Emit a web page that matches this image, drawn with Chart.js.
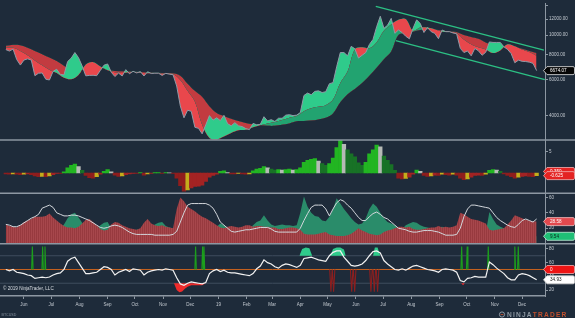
<!DOCTYPE html>
<html>
<head>
<meta charset="utf-8">
<script src="https://cdn.jsdelivr.net/npm/chart.js@4.4.0/dist/chart.umd.min.js"></script>
<style>
  html, body { margin: 0; padding: 0; background: #1e2b3a; }
  #wrap { width: 575px; height: 318px; }
</style>
</head>
<body>
<div id="wrap"><canvas id="btcChart" width="575" height="318"></canvas></div>
<script>
// days are counted from Jun 1 2018, first bar is May 12 2018
const firstDay = -20;
const closeStep = 4;
const maStep = 8;

// BTCUSD closes, one every 4 days
const closes = [
  8480, 8340, 8530, 7570, 7110, 7530, 7630, 7530, 6300, 6480,
  6500, 6050, 6000, 6620, 6780, 6390, 6360, 7400, 7700, 8200,
  7730, 7030, 6290, 6320, 6330, 6300, 6690, 7100, 7200, 6550,
  6240, 6490, 6280, 6750, 6440, 6620, 6500, 6600, 6280, 6590,
  6460, 6480, 6480, 6320, 6470, 6410, 6370, 5600, 4460, 3900,
  4250, 4200, 3500, 3460, 3250, 3600, 4000, 3800, 3900, 3780,
  4010, 3650, 3560, 3690, 3560, 3530, 3450, 3410, 3660, 3600,
  3620, 3950, 3760, 3820, 3740, 3880, 3880, 4020, 4040, 4000,
  4020, 4140, 5030, 5170, 5070, 5270, 5300, 5200, 5250, 5750,
  5820, 6970, 8200, 8200, 7900, 8800, 8560, 7700, 7950, 8200,
  8990, 9520, 11000, 12400, 10800, 11200, 12100, 10200, 10600, 10300,
  9870, 9590, 10800, 11900, 11400, 10300, 10900, 10400, 10200, 9600,
  10600, 10400, 10400, 10250, 10150, 8600, 8200, 8350, 7900, 8590,
  8360, 7950, 8230, 9250, 9200, 9200, 9200, 8750, 8500, 8100,
  7300, 7520, 7420, 7400, 7350, 7250, 6674.07
];

// ribbon averages, one every 8 days
const fastMA = [
  8650, 8650, 8350, 7950, 7500, 7100, 6750, 6500, 6150, 6050,
  6350, 7150, 7350, 7000, 6700, 6550, 6500, 6560, 6560, 6500,
  6480, 6470, 6450, 6430, 6000, 5300, 4700, 3600, 3100, 3050,
  3150, 3280, 3380, 3400, 3500, 3580, 3660, 3720, 3800, 3900,
  3980, 4200, 4350, 4420, 4500, 4800, 5800, 6600, 8500, 8700,
  8600, 9200, 10500, 11300, 11900, 12000, 10500, 10900, 10900, 10700,
  10400, 10350, 10250, 9500, 9000, 8700, 8500, 8150, 8400, 9000,
  8800, 8500, 8250, 7900
];
const slowMA = [
  8850, 8950, 8900, 8650, 8350, 8050, 7750, 7450, 7050, 6700,
  6650, 6800, 6900, 6900, 6750, 6650, 6620, 6600, 6580, 6560,
  6530, 6510, 6490, 6470, 6300, 5750, 5300, 4950, 4450, 4120,
  3980, 3860, 3760, 3680, 3620, 3580, 3560, 3560, 3600, 3660,
  3750, 3760, 3780, 3830, 3900, 4100, 4650, 5100, 5420, 5800,
  6300, 6900, 7600, 8300, 10000, 10200, 10400, 10600, 10700, 10650,
  10550, 10450, 10350, 10000, 9800, 9600, 9200, 8900, 8700, 8800,
  8750, 8550, 8350, 8150
];

// down channel drawn on the 2019 top
const channelUpperDays = [387, 572];
const channelUpperPrices = [13890, 8420];
const channelLowerDays = [409, 573];
const channelLowerPrices = [9390, 6020];

// momentum histogram
const macd = [
  -0.2, -0.3, -0.2, -0.3, -0.4, -0.3, -0.2, -0.4, -0.7, -0.9,
  -0.8, -0.9, -0.7, -0.4, -0.1, -0.1, 0.3, 1.2, 1.8, 2.1,
  1.5, 0.6, -0.6, -1.1, -1.2, -0.9, -0.3, 0.4, 0.8, 0.3,
  -0.5, -0.8, -0.7, -0.4, -0.2, -0.1, -0.1, 0.1, -0.5, -0.2,
  -0.1, 0.1, 0.1, -0.1, 0.1, 0.05, -0.1, -1.2, -3.0, -4.3,
  -4.0, -3.5, -3.2, -3.1, -2.9, -2.0, -1.0, -0.6, -0.3, 0.4,
  0.5, 0.1, -0.2, -0.2, -0.1, -0.2, -0.3, -0.2, 0.5, 0.9,
  1.1, 1.5, 1.2, 0.9, 0.7, 0.8, 0.7, 0.8, 0.9, 0.7,
  0.8, 1.2, 2.5, 3.0, 3.2, 3.4, 2.8, 2.2, 1.8, 2.2,
  3.5, 6.0, 7.7, 6.8, 5.5, 4.5, 3.8, 2.4, 1.8, 2.5,
  4.5, 5.5, 6.6, 6.2, 4.0, 3.0, 2.0, 0.6, -1.2, -1.4,
  -1.3, -1.0, -0.3, 0.7, 0.4, -0.6, -0.8, -0.7, -0.5, -0.6,
  -0.3, -0.4, -0.5, -0.3, -0.5, -1.2, -1.6, -1.4, -1.0, -0.6,
  -0.5, -0.6, -0.3, 0.6, 0.8, 0.7, 0.4, -0.2, -0.6, -0.9,
  -1.2, -1.0, -0.8, -0.7, -0.8, -0.9, -0.625
];
const macdSignalLast = 0.35;

// directional movement
const diMinus = [
  25, 23, 22, 21, 24, 28, 30, 32, 35, 35,
  35, 36, 39, 34, 30, 26, 23, 21, 21, 20,
  22, 26, 31, 32, 28, 24, 19, 17, 18, 25,
  28, 27, 24, 22, 20, 19, 18, 20, 27, 32,
  26, 24, 23, 24, 22, 21, 20, 45, 60, 55,
  48, 45, 42, 38, 35, 33, 30, 27, 24, 21,
  20, 22, 23, 22, 21, 22, 24, 24, 22, 23,
  23, 22, 22, 21, 21, 19, 19, 20, 21, 21,
  20, 18, 13, 12, 12, 12, 13, 14, 15, 12,
  11, 10, 10, 10, 11, 13, 16, 20, 17, 15,
  13, 12, 11, 12, 15, 17, 18, 20, 22, 22,
  21, 22, 19, 18, 18, 19, 20, 21, 21, 23,
  21, 22, 21, 22, 24, 40, 38, 35, 32, 31,
  30, 28, 26, 18, 17, 18, 19, 20, 25, 30,
  37, 35, 33, 31, 30, 29, 28.58
];
const diPlus = [
  15, 16, 17, 16, 14, 13, 12, 12, 11, 12,
  13, 12, 11, 15, 18, 20, 25, 33, 38, 40,
  34, 27, 20, 17, 16, 18, 24, 27, 28, 20,
  17, 18, 18, 19, 18, 17, 18, 19, 16, 18,
  22, 25, 27, 28, 23, 21, 20, 12, 9, 8,
  10, 11, 10, 11, 10, 12, 18, 20, 22, 26,
  24, 21, 20, 19, 18, 19, 18, 19, 24, 28,
  30, 37, 30, 25, 23, 24, 25, 24, 24, 23,
  24, 40, 61, 48, 40, 36, 35, 30, 29, 35,
  45, 59, 52, 45, 39, 33, 28, 25, 26, 33,
  45, 52, 48, 40, 33, 28, 26, 24, 20, 19,
  24, 26, 28, 27, 24, 22, 21, 20, 20, 21,
  22, 20, 19, 18, 17, 11, 10, 12, 11, 12,
  12, 13, 14, 41, 32, 25, 22, 20, 16, 13,
  12, 11, 11, 10, 10, 9.8, 9.54
];
const adx = [
  25, 24, 22, 22, 24, 27, 30, 33, 35, 38,
  46, 48, 50, 47, 40, 38, 36, 36, 37, 37,
  36, 34, 32, 30, 27, 24, 21, 20, 21, 23,
  24, 23, 21, 18, 15, 13, 12, 12, 12, 12,
  12, 11, 11, 11, 11, 11, 12, 16, 28, 40,
  50, 52, 52, 52, 52, 52, 50, 46, 38, 28,
  24, 20, 16, 15, 16, 17, 18, 18, 19, 20,
  21, 21, 21, 19, 16, 15, 15, 15, 15, 15,
  15, 20, 30, 39, 47, 50, 50, 50, 45, 36,
  45, 53, 57, 55, 50, 46, 40, 34, 30, 30,
  35, 39, 41, 38, 34, 32, 28, 24, 20, 19,
  18, 16, 15, 15, 16, 17, 17, 17, 16, 15,
  13, 11, 11, 11, 12, 20, 35, 45, 50, 50,
  49, 48, 47, 46, 40, 34, 30, 27, 24, 22,
  21, 25, 30, 32, 30, 28, 32
];

// oscillator panel
const rsi = [
  50, 48, 50, 46, 45, 44, 42, 41, 37, 38,
  39, 38, 39, 42, 44, 45, 50, 62, 66, 68,
  60, 52, 44, 44, 45, 46, 50, 54, 53, 50,
  42, 46, 48, 50, 47, 51, 50, 49, 42, 46,
  48, 49, 50, 49, 51, 50, 49, 38, 29, 27,
  30, 32, 31, 30, 29, 31, 44, 48, 50, 47,
  49, 46, 45, 45, 44, 43, 42, 41, 44, 51,
  55, 64, 60, 58, 54, 52, 56, 58, 57, 55,
  53, 56, 66, 67, 68, 66, 64, 63, 62, 70,
  75, 77, 77, 68, 62, 56, 55, 56, 58, 63,
  70, 76, 77, 74, 63, 58, 54, 50, 49, 51,
  49, 52, 55, 56, 54, 52, 50, 49, 48, 46,
  50, 51, 50, 49, 46, 34, 32, 37, 38, 40,
  39, 39, 39, 61, 57, 52, 48, 44, 38, 35,
  35, 42, 44, 43, 41, 38, 34.93
];
const obDays = [303, 306, 310, 314, 317, 318, 337, 340, 344, 348, 352, 354, 355, 384, 386, 389, 392];
const obVals = [70, 80, 82, 81, 70, null, 70, 80, 82, 82, 79, 70, null, 70, 82, 82, 70];
const osDays = [165, 168, 171, 174, 177, 180, 184, 190, 196, 200, 201, 481, 483, 485];
const osVals = [30, 20, 17, 18, 22, 25, 27, 27, 27, 30, null, 30, 27, 30];
const longSignalDays = [9.2, 20.5, 23.1, 188.8, 196.5, 198, 481.5, 487.6, 510.8, 540, 543.8];
const shortSignalDays = [337.7, 340.6, 360.5, 363.8, 381.7, 385.4, 389];
const longSignalTop = 83.5;
const shortSignalBottom = 17.5;
const signalBase = 50;
const signalLast = 0;
const rsiBands = [70, 30];

// axes
const monthDays = [0, 30, 61, 92, 122, 153, 183, 214, 245, 273, 304, 334, 365, 395, 426, 457, 487, 518, 548];
const monthLabels = ['Jun', 'Jul', 'Aug', 'Sep', 'Oct', 'Nov', 'Dec', '19', 'Feb', 'Mar', 'Apr', 'May', 'Jun', 'Jul', 'Aug', 'Sep', 'Oct', 'Nov', 'Dec'];
const priceTicks = [4000, 5000, 6000, 7000, 8000, 9000, 10000, 11000, 12000, 13000, 14000];
const macdTicks = [5];
const dmiTicks = [20, 40, 60];
const rsiTicks = [20, 40, 60, 80];

const xMin = -26.4, xMax = 573.2;

const canvas = document.getElementById('btcChart');
const ctx = canvas.getContext('2d');

const series = (vals, step) => vals.map((v, i) => ({ x: firstDay + i * step, y: v }));
const pairs = (days, vals) => days.map((d, i) => ({ x: d, y: vals[i] }));
const spikes = (days, peak, half) => {
  const out = [];
  days.forEach(d => {
    out.push({ x: d - half, y: signalBase }, { x: d, y: peak }, { x: d + half, y: signalBase }, { x: d + half + 0.05, y: null });
  });
  return out;
};

function stripes(a, b) {
  const c = document.createElement('canvas');
  c.width = 2; c.height = 1;
  const g = c.getContext('2d');
  g.fillStyle = a; g.fillRect(0, 0, 1, 1);
  g.fillStyle = b; g.fillRect(1, 0, 1, 1);
  return ctx.createPattern(c, 'repeat');
}

// histogram colours follow rising / falling bars
const macdColors = macd.map((v, i) => {
  const prev = i > 0 ? macd[i - 1] : v;
  const prev2 = i > 1 ? macd[i - 2] : prev;
  if (v >= 0) {
    if (v >= prev) return '#22b522';
    return prev >= prev2 ? '#b5bab5' : '#187226';
  }
  if (v <= prev) return '#8f1d1d';
  return prev <= prev2 ? '#c4ad1c' : '#a32323';
});

const gridColor = '#8d97a2';
const labelColor = '#c3c9d0';
const tickFont = { size: 4.5, family: 'Liberation Sans' };

function rightAxis(extra) {
  return Object.assign({
    position: 'right',
    stack: 'panels',
    offset: false,
    grid: { drawOnChartArea: false, drawTicks: true, tickLength: 3, color: gridColor, offset: false },
    border: { color: gridColor, width: 1 },
    ticks: { color: labelColor, font: tickFont, padding: 1, callback: v => String(v) },
    afterFit: s => { s.width = 30; }
  }, extra);
}

function drawTag(c, y, text, fill, color, stroke) {
  const x0 = 543.5, x1 = 574.5, h = 8;
  c.beginPath();
  c.moveTo(x0, y);
  c.lineTo(x0 + 3.5, y - h / 2);
  c.lineTo(x1 - 1.5, y - h / 2);
  c.quadraticCurveTo(x1, y - h / 2, x1, y - h / 2 + 1.5);
  c.lineTo(x1, y + h / 2 - 1.5);
  c.quadraticCurveTo(x1, y + h / 2, x1 - 1.5, y + h / 2);
  c.lineTo(x0 + 3.5, y + h / 2);
  c.closePath();
  c.fillStyle = fill;
  c.fill();
  if (stroke) { c.strokeStyle = stroke; c.lineWidth = 0.8; c.stroke(); }
  c.fillStyle = color;
  c.font = '4.6px "Liberation Sans"';
  c.textAlign = 'left';
  c.textBaseline = 'middle';
  c.fillText(text, x0 + 6.5, y + 0.3);
}

const background = {
  id: 'background',
  beforeDraw(chart) {
    const c = chart.ctx;
    c.save();
    c.fillStyle = '#1e2b3a';
    c.fillRect(0, 0, chart.width, chart.height);
    c.restore();
  }
};

const overlay = {
  id: 'overlay',
  afterDraw(chart) {
    const c = chart.ctx;
    const s = chart.scales;
    c.save();
    c.strokeStyle = gridColor;
    c.lineWidth = 1.5;
    [s.yP.bottom, s.yM.bottom, s.yD.bottom].forEach(y => {
      c.beginPath(); c.moveTo(0, y); c.lineTo(chart.width, y); c.stroke();
    });

    const lastClose = closes[closes.length - 1];
    drawTag(c, s.yP.getPixelForValue(lastClose), lastClose.toFixed(2), '#060606', '#ffffff', '#e6e6e6');
    drawTag(c, s.yM.getPixelForValue(macdSignalLast), macdSignalLast.toFixed(3), '#e42322', '#ffffff', '#f3b0b0');
    const lastMacd = macd[macd.length - 1];
    drawTag(c, s.yM.getPixelForValue(lastMacd), lastMacd.toFixed(3), '#e42322', '#ffffff', '#f3b0b0');
    const lastMinus = diMinus[diMinus.length - 1];
    drawTag(c, s.yD.getPixelForValue(lastMinus), lastMinus.toFixed(2), '#e2494e', '#ffffff', '#f0c0c0');
    const lastPlus = diPlus[diPlus.length - 1];
    drawTag(c, s.yD.getPixelForValue(lastPlus), lastPlus.toFixed(2), '#1fbf76', '#0d2a1e', '#bfeed8');
    drawTag(c, s.yR.getPixelForValue(signalBase), String(signalLast), '#ee1414', '#ffffff', '#f6b0b0');
    const lastRsi = rsi[rsi.length - 1];
    drawTag(c, s.yR.getPixelForValue(lastRsi), lastRsi.toFixed(2), '#ffffff', '#111111', '#d0d0d0');

    c.font = '4.6px "Liberation Sans"';
    c.textBaseline = 'middle';
    c.textAlign = 'left';
    c.fillStyle = '#d9dee3';
    c.fillText('\u00a9 2019 NinjaTrader, LLC', 3, 288.5);
    c.font = '3.6px "Liberation Sans"';
    c.fillStyle = '#8893a0';
    c.fillText('BTCUSD', 1.5, 314.5);

    // vendor mark
    c.strokeStyle = '#9aa3ad';
    c.lineWidth = 0.9;
    c.beginPath(); c.arc(502, 314.5, 2.6, 0, Math.PI * 2); c.stroke();
    c.fillStyle = '#c1502e';
    c.fillRect(500.6, 314, 2.8, 0.9);
    c.font = 'bold 6.6px "Liberation Sans"';
    c.letterSpacing = '1.2px';
    c.fillStyle = '#8f99a3';
    c.fillText('NINJA', 507, 315);
    const w = c.measureText('NINJA').width;
    c.fillStyle = '#c1502e';
    c.fillText('TRADER', 507 + w, 315);
    c.letterSpacing = '0px';
    c.restore();
  }
};

new Chart(ctx, {
  type: 'line',
  data: {
    datasets: [
      { label: 'Close', data: series(closes, closeStep), yAxisID: 'yP', borderColor: '#8f9aa6', borderWidth: 1,
        fill: { target: 1, above: '#2fcb8b', below: '#e9474c' }, order: 1 },
      { label: 'Fast', data: series(fastMA, maStep), yAxisID: 'yP', borderWidth: 0, borderColor: 'rgba(0,0,0,0)', tension: 0.35,
        fill: { target: 2, above: '#22a370', below: '#c23b40' }, order: 2 },
      { label: 'Slow', data: series(slowMA, maStep), yAxisID: 'yP', borderWidth: 0, borderColor: 'rgba(0,0,0,0)', tension: 0.35,
        fill: false, order: 3 },
      { label: 'Channel top', data: pairs(channelUpperDays, channelUpperPrices), yAxisID: 'yP', borderColor: '#2cc084', borderWidth: 1.3, fill: false, order: 0 },
      { label: 'Channel bottom', data: pairs(channelLowerDays, channelLowerPrices), yAxisID: 'yP', borderColor: '#2cc084', borderWidth: 1.3, fill: false, order: 0 },

      { type: 'bar', label: 'Momentum', data: series(macd, closeStep), yAxisID: 'yM', backgroundColor: macdColors,
        borderWidth: 0, barPercentage: 1, categoryPercentage: 1, grouped: false, order: 5 },

      { label: '-DI', data: series(diMinus, closeStep), yAxisID: 'yD', borderWidth: 0, borderColor: 'rgba(0,0,0,0)',
        fill: 'origin', backgroundColor: stripes('#983a3f', '#a7474c'), order: 5 },
      { label: '+DI', data: series(diPlus, closeStep), yAxisID: 'yD', borderWidth: 0, borderColor: 'rgba(0,0,0,0)',
        fill: 'origin', backgroundColor: '#2a8c6a', order: 6 },
      { label: 'ADX', data: series(adx, closeStep), yAxisID: 'yD', borderColor: '#d3d7dc', borderWidth: 1, fill: false, order: 1 },

      { label: 'Osc', data: series(rsi, closeStep), yAxisID: 'yR', borderColor: '#f2f2f2', borderWidth: 1.2, fill: false, order: 1 },
      { label: 'Mid', data: [{ x: xMin, y: signalBase }, { x: xMax, y: signalBase }], yAxisID: 'yR', borderColor: '#c8621e', borderWidth: 1, fill: false, order: 4 },
      { label: 'Upper band', data: [{ x: xMin, y: rsiBands[0] }, { x: xMax, y: rsiBands[0] }], yAxisID: 'yR', borderColor: '#3f4d5e', borderWidth: 1, fill: false, order: 5 },
      { label: 'Lower band', data: [{ x: xMin, y: rsiBands[1] }, { x: xMax, y: rsiBands[1] }], yAxisID: 'yR', borderColor: '#3f4d5e', borderWidth: 1, fill: false, order: 5 },
      { label: 'Overbought', data: pairs(obDays, obVals), yAxisID: 'yR', borderWidth: 0, borderColor: 'rgba(0,0,0,0)', spanGaps: false,
        fill: { value: rsiBands[0] }, backgroundColor: '#2fcb8b', order: 2 },
      { label: 'Oversold', data: pairs(osDays, osVals), yAxisID: 'yR', borderWidth: 0, borderColor: 'rgba(0,0,0,0)', spanGaps: false,
        fill: { value: rsiBands[1] }, backgroundColor: '#ee2b2b', order: 2 },
      { label: 'Long', data: spikes(longSignalDays, longSignalTop, 0.8), yAxisID: 'yR', borderColor: '#1c9e1c', borderWidth: 1.1, spanGaps: false, fill: false, order: 3 },
      { label: 'Short', data: spikes(shortSignalDays, shortSignalBottom, 1.4), yAxisID: 'yR', borderColor: '#8c1f1f', borderWidth: 1.1, spanGaps: false, fill: false, order: 3 }
    ]
  },
  options: {
    responsive: false,
    devicePixelRatio: 1,
    animation: false,
    events: [],
    layout: { padding: 0, autoPadding: false },
    datasets: { line: { pointRadius: 0 } },
    plugins: { legend: { display: false }, tooltip: { enabled: false } },
    scales: {
      x: {
        type: 'linear',
        position: 'bottom',
        offset: false,
        min: xMin,
        max: xMax,
        grid: { drawOnChartArea: false, drawTicks: true, tickLength: 3, color: gridColor, offset: false },
        border: { color: gridColor, width: 1.5 },
        afterBuildTicks: s => { s.ticks = monthDays.map(v => ({ value: v })); },
        afterFit: s => { s.height = 22; },
        ticks: { color: labelColor, font: tickFont, padding: 3, maxRotation: 0, autoSkip: false,
          callback: (v, i) => monthLabels[i] }
      },
      yP: rightAxis({
        type: 'logarithmic', weight: 1, stackWeight: 138, min: 3030, max: 14300,
        afterBuildTicks: s => { s.ticks = priceTicks.map(v => ({ value: v })); },
        ticks: { color: labelColor, font: tickFont, padding: 1, callback: v => (v > 12000 ? '' : Number(v).toFixed(2)) }
      }),
      yM: rightAxis({
        type: 'linear', weight: 2, stackWeight: 54, min: -4.8, max: 7.8,
        afterBuildTicks: s => { s.ticks = macdTicks.map(v => ({ value: v })); }
      }),
      yD: rightAxis({
        type: 'linear', weight: 3, stackWeight: 51, min: 0, max: 65.3,
        afterBuildTicks: s => { s.ticks = dmiTicks.map(v => ({ value: v })); }
      }),
      yR: rightAxis({
        type: 'linear', weight: 4, stackWeight: 53, min: 11.4, max: 87.6,
        afterBuildTicks: s => { s.ticks = rsiTicks.map(v => ({ value: v })); }
      })
    }
  },
  plugins: [background, overlay]
});
</script>
</body>
</html>
